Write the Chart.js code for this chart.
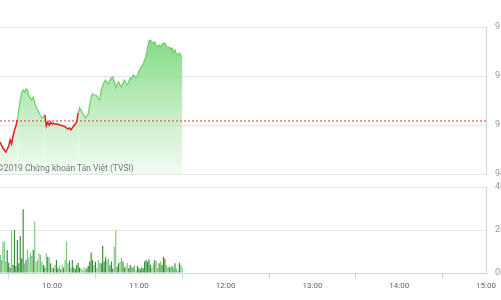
<!DOCTYPE html>
<html><head><meta charset="utf-8">
<script src="https://cdn.jsdelivr.net/npm/chart.js@4.4.1/dist/chart.umd.min.js"></script>
<style>
html,body{margin:0;padding:0;background:#fff;overflow:hidden;}
#wrap{position:relative;width:501px;height:300px;overflow:hidden;}
#priceCv{position:absolute;left:0;top:0;}
#volCv{position:absolute;left:0;top:180px;}
#copy{position:absolute;left:-3px;top:163px;font-family:Roboto,sans-serif;font-size:8.5px;line-height:10px;color:#777;white-space:nowrap;}
</style></head><body>
<div id="wrap">
<canvas id="priceCv" width="501" height="180"></canvas>
<canvas id="volCv" width="501" height="120"></canvas>
<div id="copy">©2019 Chứng khoán Tân Việt (TVSI)</div>
</div>
<script>
// ---- data ----
const firstMinute = '9:24';            // time of first data point (one point per minute)
const axisRange = ['9:24', '15:00'];   // visible time window
const timeTicks = ['10:00', '11:00', '12:00', '13:00', '14:00', '15:00'];
const referencePrice = 950.33;
const priceTicks = [946, 950, 954, 958];
const volumeTicks = [0, 2, 4];
const prices = [
  948.61, 948.37, 948.12, 947.96, 947.80, 948.04, 948.29, 948.78, 948.45, 949.10,
  949.59, 949.92, 950.41, 951.22, 952.04, 952.61, 952.86, 952.69, 952.94, 952.86,
  952.37, 952.20, 952.04, 952.29, 951.80, 951.47, 951.22, 950.98, 950.73, 950.57,
  950.65, 950.82, 949.92, 950.24, 950.00, 950.24, 950.08, 950.16, 950.08, 950.08,
  950.08, 950.00, 950.00, 949.92, 949.92, 949.84, 949.76, 949.67, 949.76, 949.59,
  949.76, 949.92, 950.08, 950.24, 950.98, 951.39, 951.22, 950.98, 950.82, 950.57,
  950.73, 950.90, 951.63, 952.29, 952.53, 952.45, 952.45, 952.37, 952.12, 952.04,
  952.86, 953.18, 953.51, 953.67, 953.51, 953.35, 953.67, 953.84, 953.92, 953.51,
  953.02, 953.35, 953.51, 953.27, 953.10, 953.43, 953.67, 953.43, 953.27, 953.51,
  953.84, 953.75, 954.08, 954.00, 953.84, 954.00, 954.41, 954.65, 954.82, 954.98,
  955.31, 955.63, 956.29, 956.86, 956.94, 956.78, 956.69, 956.78, 956.53, 956.37,
  956.53, 956.37, 956.61, 956.69, 956.69, 956.45, 956.29, 956.37, 956.20, 956.29,
  955.88, 956.12, 955.80, 955.71, 955.88, 955.71, 955.55
];
const volumes = [
  0.84, 0.60, 1.46, 1.46, 0.53, 1.07, 0.48, 0.26, 1.97, 0.37,
  2.00, 0.33, 1.53, 0.45, 1.72, 0.68, 2.96, 0.45, 0.60, 1.07,
  0.73, 0.95, 0.79, 1.07, 2.39, 0.53, 0.60, 0.91, 0.84, 0.53,
  0.37, 0.26, 0.91, 0.76, 0.73, 0.45, 0.26, 0.22, 0.37, 0.60,
  0.22, 0.33, 0.17, 0.37, 0.26, 0.60, 1.46, 0.45, 0.57, 0.26,
  0.60, 0.26, 0.17, 0.37, 0.48, 0.26, 0.22, 0.12, 0.26, 0.17,
  0.22, 0.33, 0.53, 0.95, 0.60, 0.37, 0.53, 0.26, 0.60, 0.48,
  0.45, 1.26, 0.53, 0.73, 0.60, 0.68, 0.37, 0.53, 0.22, 1.22,
  1.97, 0.29, 0.45, 0.53, 0.73, 0.53, 0.26, 0.33, 0.48, 0.22,
  0.37, 0.29, 0.26, 0.37, 0.12, 0.33, 0.22, 0.17, 0.26, 0.22,
  0.53, 0.60, 0.53, 0.64, 0.37, 0.26, 0.45, 0.60, 0.53, 0.22,
  0.45, 0.53, 0.37, 0.74, 0.68, 0.37, 0.26, 0.29, 0.26, 0.33,
  0.22, 0.45, 0.22, 0.12, 0.48, 0.37, 0.26
];

// ---- helpers ----
const toMin = s => { const [h, m] = s.split(':').map(Number); return h * 60 + m; };
const t0 = toMin(firstMinute);
const xMin = toMin(axisRange[0]), xMax = toMin(axisRange[1]);
const priceData = prices.map((v, i) => ({x: t0 + i, y: v}));
const volumeData = volumes.map((v, i) => ({x: t0 + i, y: v}));
const volColors = prices.map((p, i) => (i === 0 || p >= prices[i - 1]) ? '#2b8a2b' : '#79c479');

const GREEN = '#6ccf6c', RED = '#e0201b', GRID = '#e6e6e6', AXIS = '#ccd6eb';
Chart.defaults.font.family = 'Roboto, sans-serif';

const rightAxis = (ticksArr, fmt) => ({
  position: 'right',
  min: ticksArr[0], max: ticksArr[ticksArr.length - 1],
  afterBuildTicks: s => { s.ticks = ticksArr.map(v => ({value: v})); },
  afterFit: s => { s.width = 15; },
  grid: {color: GRID, drawTicks: true, tickLength: 9, tickColor: 'rgba(0,0,0,0)'},
  border: {display: true, color: AXIS},
  ticks: {padding: 0, color: '#999', font: {size: 9}, callback: fmt}
});

new Chart(document.getElementById('priceCv'), {
  type: 'line',
  data: {
    datasets: [
      {
        data: priceData,
        order: 2,
        borderWidth: 1.2,
        pointRadius: 0,
        tension: 0,
        fill: 'start',
        borderColor: GREEN,
        segment: {
          borderColor: c => (c.p0.parsed.y < referencePrice || c.p1.parsed.y < referencePrice) ? RED : GREEN,
          borderWidth: c => (c.p0.parsed.y < referencePrice || c.p1.parsed.y < referencePrice) ? 1.5 : 1.2
        },
        backgroundColor: c => {
          const ch = c.chart, a = ch.chartArea;
          if (!a) return 'rgba(120,215,120,0.4)';
          const g = ch.ctx.createLinearGradient(0, a.top, 0, a.bottom);
          g.addColorStop(0, 'rgba(108,212,108,0.92)');
          g.addColorStop(0.5, 'rgba(128,218,128,0.55)');
          g.addColorStop(1, 'rgba(150,225,150,0.12)');
          return g;
        }
      },
      {
        data: [{x: xMin, y: referencePrice}, {x: xMax, y: referencePrice}],
        order: 1,
        borderColor: '#d63a3a',
        borderWidth: 1,
        borderDash: [2, 2],
        pointRadius: 0,
        fill: false
      }
    ]
  },
  options: {
    responsive: false,
    animation: false,
    events: [],
    layout: {autoPadding: false, padding: {top: 27, bottom: 6, left: 0, right: 0}},
    plugins: {legend: {display: false}, tooltip: {enabled: false}},
    scales: {
      x: {type: 'linear', min: xMin, max: xMax, display: false},
      y: rightAxis(priceTicks, v => v.toFixed(2))
    }
  }
});

new Chart(document.getElementById('volCv'), {
  type: 'bar',
  data: {
    datasets: [{
      data: volumeData,
      backgroundColor: volColors,
      borderWidth: 0,
      barPercentage: 0.9,
      categoryPercentage: 0.85
    }]
  },
  options: {
    responsive: false,
    animation: false,
    events: [],
    layout: {autoPadding: false, padding: {top: 7, bottom: 0, left: 0, right: 0}},
    plugins: {legend: {display: false}, tooltip: {enabled: false}},
    scales: {
      x: {
        type: 'linear', min: xMin, max: xMax, offset: false,
        afterBuildTicks: s => { s.ticks = timeTicks.map(t => ({value: toMin(t)})); },
        afterFit: s => { s.height = 27; },
        grid: {drawOnChartArea: false, drawTicks: true, tickLength: 6, color: AXIS},
        border: {display: true, color: AXIS},
        ticks: {
          autoSkip: false, maxRotation: 0, padding: 2, color: '#666', font: {size: 8},
          callback: v => timeTicks.find(t => toMin(t) === v) || ''
        }
      },
      y: rightAxis(volumeTicks, v => v + 'M')
    }
  }
});
</script>
</body></html>
